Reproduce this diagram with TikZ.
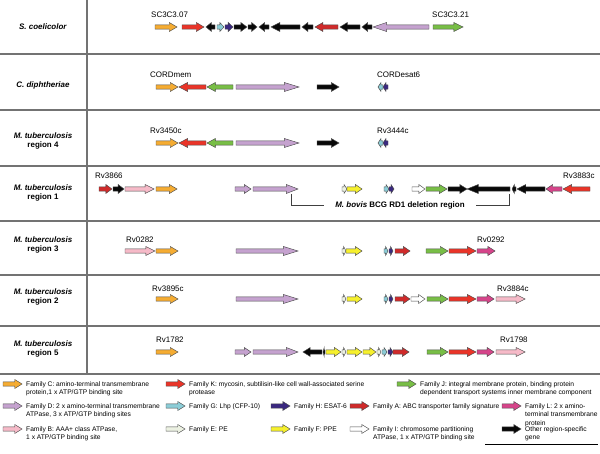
\documentclass[tikz,border=0pt]{standalone}
\usepackage{fontspec}
\setmainfont{Liberation Sans}
\usetikzlibrary{positioning}

\definecolor{famC}{RGB}{245,172,50}
\definecolor{famK}{RGB}{234,52,40}
\definecolor{famA}{RGB}{208,42,42}
\definecolor{famD}{RGB}{197,162,207}
\definecolor{famG}{RGB}{140,205,215}
\definecolor{famH}{RGB}{58,40,128}
\definecolor{famL}{RGB}{214,68,138}
\definecolor{famB}{RGB}{246,186,200}
\definecolor{famE}{RGB}{236,241,226}
\definecolor{famF}{RGB}{246,240,45}
\definecolor{famI}{RGB}{255,255,255}
\definecolor{famJ}{RGB}{120,190,70}
\definecolor{famX}{RGB}{8,8,8}

% gene arrow from x1 to x2 (direction given by order) at height y
\newcommand{\genearrow}[4]{%
  \pgfmathsetmacro{\gL}{abs((#2)-(#1))}%
  \pgfmathsetmacro{\gS}{sign((#2)-(#1))}%
  \pgfmathsetmacro{\gH}{min(4+0.17*\gL,0.6*\gL)}%
  \pgfmathsetmacro{\gX}{(#2)-\gS*\gH}%
  \filldraw[gene,fill=#4] (#1,#3-2.2) -- (\gX,#3-2.2) -- (\gX,#3-4.5) -- (#2,#3)
    -- (\gX,#3+4.5) -- (\gX,#3+2.2) -- (#1,#3+2.2) -- cycle;}

\begin{document}
\begin{tikzpicture}[
            x=1bp, y=-1bp,
            gene/.style={draw=black!70,line width=0.45bp,line join=miter},
            sep/.style={draw=black!55,line width=1.1bp},
            lbl/.style={font=\fontsize{8}{9.5}\selectfont,anchor=west,inner sep=0pt},
            org/.style={font=\fontsize{8}{9.6}\selectfont\bfseries,align=center,inner sep=0pt},
            leg/.style={font=\fontsize{6.7}{8.3}\selectfont,align=left,anchor=north west,inner sep=0pt},
            del/.style={font=\fontsize{8}{9.5}\selectfont\bfseries,inner xsep=11bp,inner ysep=0pt},
            bracket/.style={draw=black!75,line width=0.8bp}
        ]

        \useasboundingbox (0,0) rectangle (600,454);

        % table lines
        \foreach \y in {54,110,166,221,275,326,374}
            \draw[sep] (0,\y) -- (600,\y);
        \draw[sep] (87,0) -- (87,374);

        % organism column
        \node[org] (sco) at (43,27) {\textit{S. coelicolor}};
        \node[org] (cdi) at (43,85) {\textit{C. diphtheriae}};
        \node[org] (mtb4) at (43,141) {\textit{M. tuberculosis}\\region 4};
        \node[org] (mtb1) at (43,193) {\textit{M. tuberculosis}\\region 1};
        \node[org] (mtb3) at (43,245) {\textit{M. tuberculosis}\\region 3};
        \node[org] (mtb2) at (43,297) {\textit{M. tuberculosis}\\region 2};
        \node[org] (mtb5) at (43,349) {\textit{M. tuberculosis}\\region 5};

        % S. coelicolor
        \foreach \a/\b/\c in {155/177/famC,182/204/famK,215/206/famX,217/224/famG,225/233/famH,
                234/247/famX,248/257/famX,269/259/famX,300/271/famX,313/302/famX,338/315/famA,
                360/340/famX,372/362/famX,429/373/famD,433/463/famJ}
            \genearrow{\a}{\b}{27}{\c};
        \node[lbl] (sc07) at (151,15) {SC3C3.07};
        \node[lbl] (sc21) at (432,15) {SC3C3.21};

        % C. diphtheriae and region 4
        \foreach \y in {87,143}
            \foreach \a/\b/\c in {156/178/famC,206/179/famK,233/207/famJ,236/299/famD,
                    317/339/famX,383/378/famG,388/383/famH}
                \genearrow{\a}{\b}{\y}{\c};
        \node[lbl] (cmem) at (150,75) {CORDmem};
        \node[lbl] (cesat) at (377,75) {CORDesat6};
        \node[lbl] (rv3450) at (150,131) {Rv3450c};
        \node[lbl] (rv3444) at (377,131) {Rv3444c};

        % region 1
        \foreach \a/\b/\c in {99/112/famA,113/124/famX,125/154/famB,156/177/famC,235/251/famD,
                253/298/famD,342/347/famE,347/362/famF,384/389/famG,389/394/famH,412/425/famI,
                426/447/famJ,448/467/famX,510/467/famX,516/512/famX,545/517/famX,562/546/famL,
                590/563/famK}
            \genearrow{\a}{\b}{189}{\c};
        \node[lbl] (rv3866) at (95,176) {Rv3866};
        \node[lbl] (rv3883) at (563,176) {Rv3883c};
        \coordinate (rdl) at (291,194);
        \coordinate (rdr) at (509,194);
        \node[del] (rd1) at (400,205) {\textit{M. bovis} BCG RD1 deletion region};
        \draw[bracket] (rdl) |- (rd1.west);
        \draw[bracket] (rdr) |- (rd1.east);

        % region 3
        \foreach \a/\b/\c in {125/155/famB,156/178/famC,236/298/famD,342/346/famE,346/362/famF,
                384/388/famG,389/393/famH,395/410/famA,426/448/famJ,449/476/famK,477/495/famL}
            \genearrow{\a}{\b}{251}{\c};
        \node[lbl] (rv0282) at (126,240) {Rv0282};
        \node[lbl] (rv0292) at (477,240) {Rv0292};

        % region 2
        \foreach \a/\b/\c in {156/178/famC,236/298/famD,342/346/famE,347/362/famF,384/388/famG,
                389/393/famH,395/410/famA,411/425/famI,427/448/famJ,449/476/famK,477/494/famL,
                496/525/famB}
            \genearrow{\a}{\b}{299}{\c};
        \node[lbl] (rv3895) at (152,289) {Rv3895c};
        \node[lbl] (rv3884) at (497,289) {Rv3884c};

        % region 5
        \foreach \a/\b/\c in {156/178/famC,235/251/famD,253/298/famD,322/303/famX,325/323/famX,
                326/341/famF,342/346/famE,347/362/famF,363/376/famF,377/381/famE,382/387/famG,
                388/393/famH,393/409/famA,427/448/famJ,449/476/famK,477/494/famL,496/525/famB}
            \genearrow{\a}{\b}{352}{\c};
        \node[lbl] (rv1782) at (156,340) {Rv1782};
        \node[lbl] (rv1798) at (500,340) {Rv1798};

        % legend
        \foreach \x/\y/\c in {3/384/famC,166/384/famK,397/384/famJ,
                3/406/famD,166/406/famG,271/406/famH,350/406/famA,502/406/famL,
                3/429/famB,166/429/famE,271/429/famF,350/429/famI,502/429/famX}
            \genearrow{\x}{\x+19}{\y}{\c};
        \node[leg] (legC) at (26,381.5) {Family C: amino-terminal transmembrane\\protein,1 x ATP/GTP binding site};
        \node[leg] (legK) at (189,381.5) {Family K: mycosin, subtilisin-like cell wall-associated serine\\protease};
        \node[leg] (legJ) at (420,381.5) {Family J: integral membrane protein, binding protein\\dependent transport systems inner membrane component};
        \node[leg] (legD) at (26,403.5) {Family D: 2 x amino-terminal transmembrane\\ATPase, 3 x ATP/GTP binding sites};
        \node[leg] (legG) at (189,403.5) {Family G: Lhp (CFP-10)};
        \node[leg] (legH) at (294,403.5) {Family H: ESAT-6};
        \node[leg] (legA) at (373,403.5) {Family A: ABC transporter family signature};
        \node[leg] (legL) at (525,403.5) {Family L: 2 x amino-\\terminal transmembrane\\protein};
        \node[leg] (legB) at (26,426.5) {Family B: AAA+ class ATPase,\\1 x ATP/GTP binding site};
        \node[leg] (legE) at (189,426.5) {Family E: PE};
        \node[leg] (legF) at (294,426.5) {Family F: PPE};
        \node[leg] (legI) at (373,426.5) {Family I: chromosome partitioning\\ATPase, 1 x ATP/GTP binding site};
        \node[leg] (legX) at (525,426.5) {Other region-specific\\gene};
        \draw[line width=1bp] (485,444) -- (598,444);

    \end{tikzpicture}
\end{document}
